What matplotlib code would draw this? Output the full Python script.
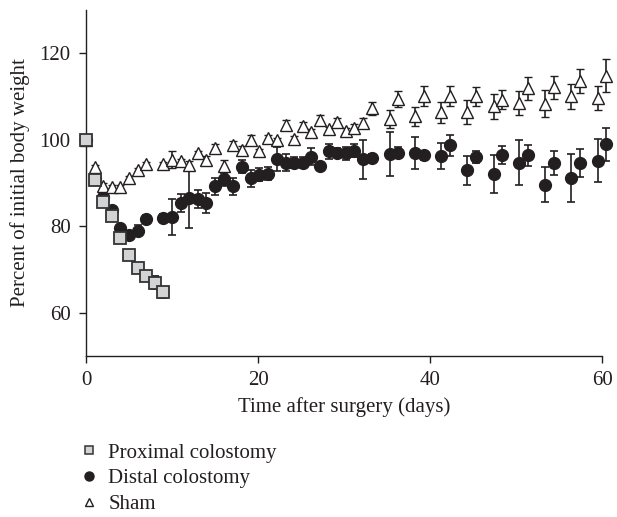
import matplotlib.pyplot as plt
from matplotlib.lines import Line2D

# Proximal colostomy
prox_days = [0, 1, 2, 3, 4, 5, 6, 7, 8, 9]
prox_vals = [100, 90.6, 85.7, 82.4, 77.3, 73.4, 70.3, 68.4, 66.9, 64.7]
prox_err = [0, 0.5, 0.5, 0.5, 0.6, 0.6, 0.6, 0.8, 1.5, 1.2]

# Distal colostomy
dist_days = [0, 1, 2, 3, 4, 5, 6, 7, 9, 10, 11, 12, 13, 14, 15, 16.05, 17.05, 18.1, 19.15, 20.15,
             21.2, 22.2, 23.3, 24.2, 25.2, 26.2, 27.2, 28.2, 29.2, 30.2, 31.2, 32.2, 33.3,
             35.3, 36.3, 38.3, 39.3, 41.3, 42.3, 44.3, 45.3, 47.4, 48.4, 50.4, 51.4, 53.4, 54.4,
             56.4, 57.4, 59.5, 60.5]
dist_vals = [100, 91.1, 86.8, 83.8, 79.6, 78.0, 79.0, 81.7, 81.9, 82.1, 85.4, 86.5, 86.3, 85.4, 89.2,
             90.9, 89.2, 93.8, 91.1, 91.9, 92.1, 95.5, 94.7, 94.7, 94.7, 96.1, 94.0, 97.3, 97.0, 96.9,
             97.4, 95.5, 95.8, 96.7, 97.0, 97.0, 96.4, 96.3, 98.7, 92.9, 96.0, 92.1, 96.5, 94.7, 96.4,
             89.6, 94.6, 91.1, 94.7, 95.2, 99.0]
dist_err = [0, 0.5, 0.5, 0.5, 0.8, 1.0, 1.3, 1.0, 1.0, 4.2, 2.0, 7.0, 2.0, 2.4, 2.0, 1.5, 2.0, 1.5, 2.0,
            1.5, 1.5, 2.8, 2.0, 1.2, 1.2, 2.0, 0.5, 1.8, 1.0, 1.5, 1.5, 4.5, 0.8, 5.1, 1.3, 3.7, 1.0,
            3.0, 2.4, 3.3, 1.4, 4.3, 2.1, 5.2, 2.4, 4.0, 2.7, 5.5, 3.2, 4.9, 3.8]

# Sham
sham_days = [0, 1, 2, 3, 4, 5, 6, 7, 9, 10, 11, 12, 13, 14, 15, 16.05, 17.05, 18.1, 19.15, 20.15,
             21.2, 22.2, 23.3, 24.2, 25.2, 26.2, 27.2, 28.2, 29.2, 30.2, 31.2, 32.2, 33.3,
             35.3, 36.3, 38.3, 39.3, 41.3, 42.3, 44.3, 45.3, 47.4, 48.4, 50.4, 51.4, 53.4, 54.4,
             56.4, 57.4, 59.5, 60.5]
sham_vals = [100, 93.6, 89.4, 89.1, 89.1, 91.2, 93.0, 94.4, 94.4, 95.4, 95.1, 94.2, 96.9, 95.4, 98.1,
             94.0, 98.8, 97.7, 100.0, 97.3, 100.4, 100.0, 103.4, 100.1, 103.1, 101.7, 104.6, 102.4,
             104.2, 102.1, 102.8, 103.8, 107.3, 104.8, 109.4, 105.4, 110.1, 106.3, 110.1, 106.5,
             110.0, 107.7, 109.2, 108.5, 111.9, 108.3, 112.1, 110.0, 113.5, 109.6, 114.8]
sham_err = [0, 0.5, 0.5, 0.5, 0.5, 0.5, 0.5, 0.5, 0.5, 1.9, 0.5, 1.0, 0.5, 0.8, 1.0, 1.3, 0.8, 0.8,
            1.0, 0.5, 0.8, 0.5, 1.2, 0.8, 1.0, 0.8, 1.2, 0.6, 0.8, 0.6, 0.8, 1.2, 1.5, 2.1, 1.8,
            2.2, 2.3, 2.5, 2.3, 2.8, 2.3, 2.8, 2.2, 2.7, 2.6, 3.1, 2.7, 3.0, 2.8, 2.8, 3.8]

plt.rcParams['font.family'] = ['Liberation Serif', 'DejaVu Serif']

fig = plt.figure(figsize=(6.17, 5.17), dpi=100)
ax = fig.add_axes([0.1394, 0.3114, 0.8363, 0.6693])

ecol = '#231f20'
ax.errorbar(dist_days, dist_vals, yerr=dist_err, fmt='o', ms=8.5, mfc=ecol, mec=ecol,
            ecolor=ecol, elinewidth=1.2, capsize=2.8, capthick=1.2, zorder=3, clip_on=False)
ax.errorbar(sham_days, sham_vals, yerr=sham_err, fmt='^', ms=8.5, mfc='white', mec=ecol,
            mew=1.0, ecolor=ecol, elinewidth=1.2, capsize=2.8, capthick=1.2, zorder=4, clip_on=False)
ax.errorbar(prox_days, prox_vals, yerr=prox_err, fmt='s', ms=8, mfc='#d1d3d4', mec='#333333',
            mew=1.3, ecolor=ecol, elinewidth=1.2, capsize=2.8, capthick=1.2, zorder=5, clip_on=False)

ax.set_xlim(0, 60)
ax.set_ylim(50, 130)
ax.set_xticks([0, 20, 40, 60])
ax.set_yticks([60, 80, 100, 120])
ax.spines['top'].set_visible(False)
ax.spines['right'].set_visible(False)
for s in ['left', 'bottom']:
    ax.spines[s].set_color('#231f20')
    ax.spines[s].set_linewidth(1.0)
ax.tick_params(direction='out', length=5, width=1, colors='#231f20', labelsize=15, pad=6)
ax.set_xlabel('Time after surgery (days)', fontsize=15, color='#231f20', labelpad=5)
ax.set_ylabel('Percent of initial body weight', fontsize=15, color='#231f20', labelpad=7)

handles = [
    Line2D([], [], ls='none', marker='s', ms=6, mfc='#d1d3d4', mec='#333333', mew=1.1),
    Line2D([], [], ls='none', marker='o', ms=6.5, mfc=ecol, mec=ecol),
    Line2D([], [], ls='none', marker='^', ms=6, mfc='white', mec=ecol, mew=1.0),
]
labels = ['Proximal colostomy', 'Distal colostomy', 'Sham']
fig.legend(handles, labels, loc='upper left', bbox_to_anchor=(0.13, 0.143), frameon=False,
           fontsize=15, handlelength=0.8, handletextpad=0.55, labelspacing=0.3,
           borderpad=0, borderaxespad=0, labelcolor='#231f20')

fig.savefig('out.png', dpi=100)
